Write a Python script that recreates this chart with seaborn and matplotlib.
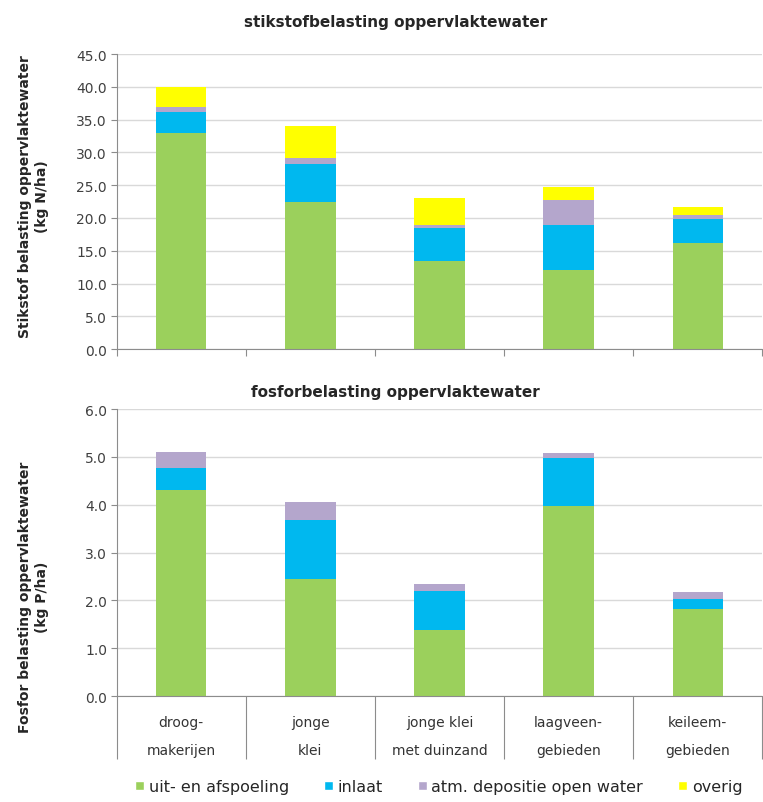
import numpy as np
import pandas as pd
import seaborn as sns
import matplotlib.pyplot as plt
from matplotlib.patches import Patch

# Gebieden en bronnen
gebieden = ['droog-\nmakerijen', 'jonge\nklei', 'jonge klei\nmet duinzand',
            'laagveen-\ngebieden', 'keileem-\ngebieden']
bronnen = ['uit- en afspoeling', 'inlaat', 'atm. depositie open water', 'overig']
kleuren = ['#9BD05C', '#00B8EF', '#B4A6CC', '#FFFF00']

# Stikstof (kg N/ha)
n_uit = [33.0, 22.5, 13.4, 12.1, 16.2]
n_inlaat = [3.1, 5.8, 5.0, 6.8, 3.6]
n_atm = [0.8, 0.8, 0.6, 3.9, 0.6]
n_overig = [3.1, 4.9, 4.1, 1.9, 1.3]

# Fosfor (kg P/ha)
p_uit = [4.31, 2.44, 1.37, 3.97, 1.81]
p_inlaat = [0.45, 1.23, 0.82, 1.00, 0.22]
p_atm = [0.35, 0.39, 0.16, 0.12, 0.15]
p_overig = [0.0, 0.0, 0.0, 0.0, 0.0]

sns.set_style('white')
plt.rcParams['font.family'] = ['DejaVu Sans']

fig = plt.figure(figsize=(7.63, 8.03), dpi=100)
ax1 = fig.add_axes([0.153, 0.564, 0.846, 0.3675])
ax2 = fig.add_axes([0.153, 0.132, 0.846, 0.3574])


def stacked(ax, lagen, ymax, step):
    df = pd.DataFrame({'gebied': gebieden})
    for naam, waarden in zip(bronnen, lagen):
        df[naam] = waarden
    # cumulatief stapelen, hoogste laag eerst tekenen
    cum = df[bronnen].cumsum(axis=1)
    for naam, kleur in reversed(list(zip(bronnen, kleuren))):
        sns.barplot(x=df['gebied'], y=cum[naam], color=kleur, saturation=1,
                    width=0.39, linewidth=0, edgecolor='none', ax=ax)
    ax.set_xlim(-0.5, 4.5)
    ax.set_ylim(0, ymax)
    ax.set_yticks(np.arange(0, ymax + step / 2, step))
    ax.set_yticklabels([f'{v:.1f}' for v in np.arange(0, ymax + step / 2, step)])
    ax.set_xlabel('')
    ax.set_ylabel('')
    ax.yaxis.grid(True, color='#D9D9D9', lw=1)
    ax.set_axisbelow(True)
    for s in ['top', 'right']:
        ax.spines[s].set_visible(False)
    for s in ['left', 'bottom']:
        ax.spines[s].set_color('#8C8C8C')
    ax.tick_params(axis='y', left=True, length=4, color='#8C8C8C',
                   labelsize=10, labelcolor='#404040', pad=3)
    ax.set_xticks(np.arange(-0.5, 5, 1))
    ax.set_xticklabels([''] * 6)


stacked(ax1, [n_uit, n_inlaat, n_atm, n_overig], 45, 5)
ax1.tick_params(axis='x', which='major', bottom=True, length=5,
                color='#8C8C8C')

stacked(ax2, [p_uit, p_inlaat, p_atm, p_overig], 6, 1)
ax2.tick_params(axis='x', which='major', bottom=True, length=45,
                color='#8C8C8C')
ax2.set_xticks(range(5), minor=True)
ax2.set_xticklabels(gebieden, minor=True, fontsize=10, color='#333333',
                    linespacing=2.2)
ax2.tick_params(axis='x', which='minor', bottom=True, length=0, pad=14)

fig.text(0.518, 0.972, 'stikstofbelasting oppervlaktewater', ha='center',
         va='center', fontsize=11, fontweight='bold')
fig.text(0.518, 0.511, 'fosforbelasting oppervlaktewater', ha='center',
         va='center', fontsize=11, fontweight='bold')

fig.text(0.044, 0.755, 'Stikstof belasting oppervlaktewater\n(kg N/ha)',
         rotation=90, ha='center', va='center', fontsize=10,
         fontweight='bold', multialignment='center', linespacing=1.3)
fig.text(0.044, 0.256, 'Fosfor belasting oppervlaktewater\n(kg P/ha)',
         rotation=90, ha='center', va='center', fontsize=10,
         fontweight='bold', multialignment='center', linespacing=1.3)

handles = [Patch(facecolor=k, label=b) for b, k in zip(bronnen, kleuren)]
fig.legend(handles=handles, loc='lower center', bbox_to_anchor=(0.575, -0.008),
           ncol=4, frameon=False, fontsize=11.5, handlelength=0.55,
           handleheight=0.55, handletextpad=0.3, columnspacing=2.2)

fig.savefig('out.png', dpi=100)
